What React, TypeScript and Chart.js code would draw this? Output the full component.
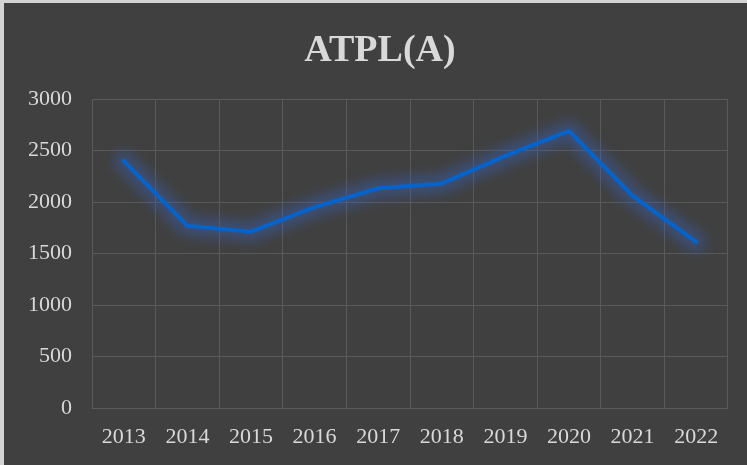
import React, { useEffect, useRef } from "react";
import { Chart, registerables } from "chart.js";

Chart.register(...registerables);

const categories = ["2013", "2014", "2015", "2016", "2017", "2018", "2019", "2020", "2021", "2022"];
const seriesValues = [2400, 1770, 1712, 1950, 2133, 2180, 2447, 2690, 2061, 1612];
const titleText = "ATPL(A)";

const SERIF = "'Liberation Serif', 'Times New Roman', serif";

const glowPlugin = {
  id: "glow",
  beforeDatasetDraw(chart: any, args: any) {
    const meta = chart.getDatasetMeta(args.index);
    const pts = meta.data;
    if (!pts || !pts.length) return;
    const ctx = chart.ctx;
    ctx.save();
    ctx.filter = "blur(6px)";
    ctx.strokeStyle = "rgba(55, 95, 180, 0.45)";
    ctx.lineWidth = 20;
    ctx.lineJoin = "round";
    ctx.lineCap = "round";
    ctx.beginPath();
    pts.forEach((p: any, i: number) => {
      if (i === 0) ctx.moveTo(p.x, p.y);
      else ctx.lineTo(p.x, p.y);
    });
    ctx.stroke();
    ctx.restore();
  },
};

const titlePlugin = {
  id: "customTitle",
  afterDraw(chart: any) {
    const ctx = chart.ctx;
    ctx.save();
    ctx.fillStyle = "#d9d9d9";
    ctx.font = `bold 38px ${SERIF}`;
    ctx.textAlign = "center";
    ctx.textBaseline = "middle";
    ctx.fillText(titleText, 376, 48);
    ctx.restore();
  },
};

export default function App() {
  const ref = useRef<HTMLCanvasElement | null>(null);
  useEffect(() => {
    if (!ref.current) return;
    const chart = new Chart(ref.current, {
      type: "line",
      data: {
        labels: categories,
        datasets: [
          {
            data: seriesValues,
            borderColor: "#0563cc",
            borderWidth: 4,
            pointRadius: 0,
            tension: 0,
            fill: false,
            borderCapStyle: "round",
            borderJoinStyle: "miter",
          },
        ],
      },
      options: {
        animation: false,
        responsive: false,
        maintainAspectRatio: false,
        layout: { padding: { left: 0, right: 19, top: 96, bottom: 0 } },
        plugins: {
          legend: { display: false },
          tooltip: { enabled: false },
          title: { display: false },
        },
        scales: {
          x: {
            offset: true,
            grid: { color: "#5a5a5a", lineWidth: 1, drawTicks: false, offset: true },
            border: { display: false },
            ticks: {
              color: "#d9d9d9",
              font: { family: SERIF, size: 22 },
              padding: 16,
              maxRotation: 0,
              autoSkip: false,
            },
            afterFit(scale: any) {
              scale.height = 57;
            },
          },
          y: {
            min: 0,
            max: 3000,
            grid: { color: "#5a5a5a", lineWidth: 1, drawTicks: false },
            border: { display: false },
            ticks: {
              stepSize: 500,
              color: "#d9d9d9",
              font: { family: SERIF, size: 22 },
              padding: 20,
              callback: (v: any) => String(v),
            },
            afterFit(scale: any) {
              scale.width = 88;
            },
          },
        },
      },
      plugins: [glowPlugin, titlePlugin],
    } as any);
    return () => chart.destroy();
  }, []);
  return (
    <div
      style={{
        position: "fixed",
        left: 0,
        top: 0,
        width: 747,
        height: 465,
        boxSizing: "border-box",
        background: "#404040",
        borderLeft: "4px solid #d4d4d4",
        borderTop: "3px solid #d4d4d4",
        overflow: "hidden",
      }}
    >
      <canvas ref={ref} width={743} height={462} style={{ display: "block" }} />
    </div>
  );
}
